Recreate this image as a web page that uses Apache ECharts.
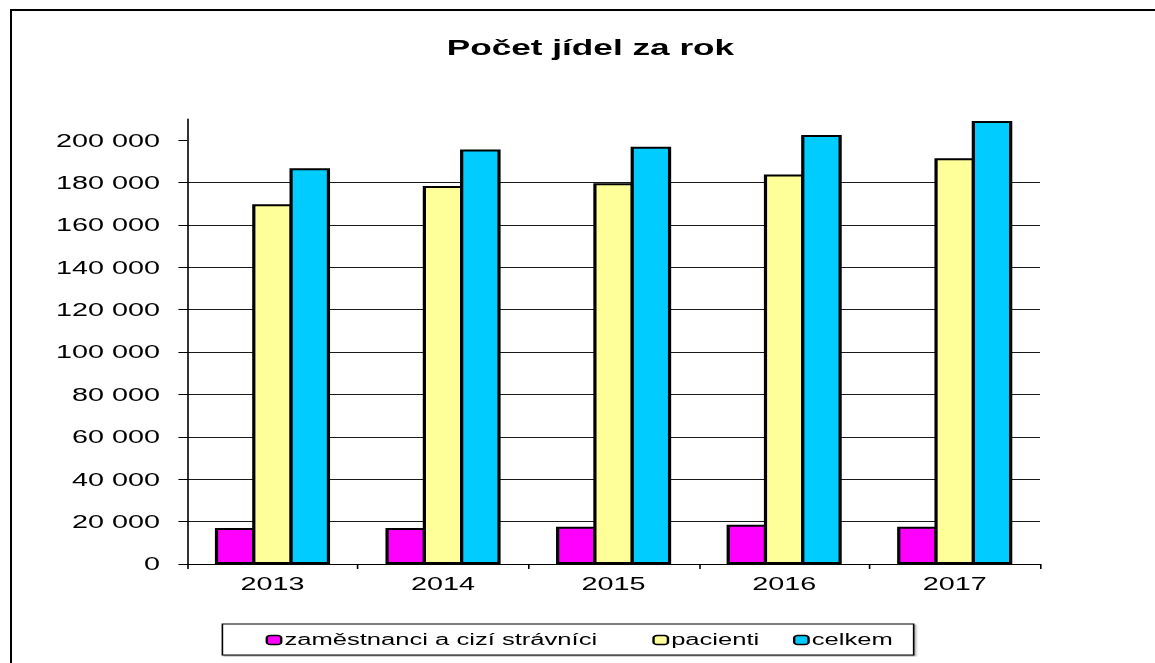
<!DOCTYPE html>
<html>
<head>
<meta charset="utf-8">
<script src="https://cdn.jsdelivr.net/npm/echarts@6/dist/echarts.min.js"></script>
<style>
  html, body { margin: 0; padding: 0; background: #fff; overflow: hidden; }
  #frame { position: absolute; left: 10px; top: 9px; width: 1200px; height: 700px;
           border-left: 2px solid #000; border-top: 2px solid #000; box-sizing: border-box; }
  #chart { position: absolute; left: 0; top: 0; width: 722px; height: 663px;
           transform: scaleX(1.6); transform-origin: 0 0; }
</style>
</head>
<body>
<div id="frame"></div>
<div id="chart"></div>
<script>
const years = ['2013', '2014', '2015', '2016', '2017'];
const zamestnanci = [17000, 17000, 17600, 18500, 17600];
const pacienti = [169800, 178400, 179700, 183800, 191500];
const celkem = [186800, 195600, 196900, 202500, 209100];
const yTicks = [0, 20000, 40000, 60000, 80000, 100000, 120000, 140000, 160000, 180000, 200000];
const seriesNames = ['zaměstnanci a cizí strávníci', 'pacienti', 'celkem'];

const FONT = '"Liberation Sans", Arial, sans-serif';
const fmt = v => String(v).replace(/\B(?=(\d{3})+(?!\d))/g, ' ');

const chart = echarts.init(document.getElementById('chart'), null, { renderer: 'svg', width: 722, height: 663 });
const barStyle = c => ({ color: c, borderColor: '#000', borderWidth: 2, borderRadius: 0, borderJoin: 'miter' });
const mkBar = (name, data, color) => ({
  name, type: 'bar', data, barGap: '-8%', barCategoryGap: '32.5%', itemStyle: barStyle(color)
});

chart.setOption({
  animation: false,
  backgroundColor: 'transparent',
  title: {
    text: 'Počet jídel za rok',
    left: 369, textAlign: 'center', top: 36, padding: 0,
    textStyle: { fontFamily: FONT, fontSize: 22, fontWeight: 'bold', color: '#000' }
  },
  legend: {
    data: seriesNames,
    left: 139, top: 624,
    padding: [8, 13, 7, 27],
    itemGap: 21, itemWidth: 9, itemHeight: 9,
    borderColor: '#000', borderWidth: 1,
    shadowColor: 'rgba(0,0,0,0.35)', shadowOffsetX: 1, shadowOffsetY: 1, shadowBlur: 1,
    backgroundColor: '#fff',
    formatter: name => name === seriesNames[0] ? name + '\u00A0\u00A0\u00A0' : name,
    textStyle: { fontFamily: FONT, fontSize: 16, color: '#000', padding: [0, 0, 0, -3] },
    itemStyle: { borderColor: '#000', borderWidth: 1.5 }
  },
  grid: { left: 117, right: 72, top: 119, bottom: 99, outerBoundsMode: 'none' },
  xAxis: {
    type: 'category',
    data: years,
    axisLine: { lineStyle: { color: '#000', width: 1 } },
    axisTick: { show: true, alignWithLabel: false, length: 5, lineStyle: { color: '#000' } },
    axisLabel: { fontFamily: FONT, fontSize: 18, color: '#000', margin: 11 }
  },
  yAxis: {
    type: 'value',
    min: 0, max: 210000, interval: 20000,
    axisLine: { show: true, lineStyle: { color: '#000', width: 1 } },
    axisTick: { show: true, length: 5.5, customValues: yTicks, lineStyle: { color: '#000' } },
    axisLabel: { fontFamily: FONT, fontSize: 18, color: '#000', margin: 17,
                 customValues: yTicks, formatter: fmt },
    splitLine: { show: true, showMaxLine: false, lineStyle: { color: '#1a1a1a', width: 1 } }
  },
  series: [
    mkBar(seriesNames[0], zamestnanci, '#FF00FF'),
    mkBar(seriesNames[1], pacienti, '#FFFF99'),
    mkBar(seriesNames[2], celkem, '#00CCFF')
  ]
});
</script>
</body>
</html>
